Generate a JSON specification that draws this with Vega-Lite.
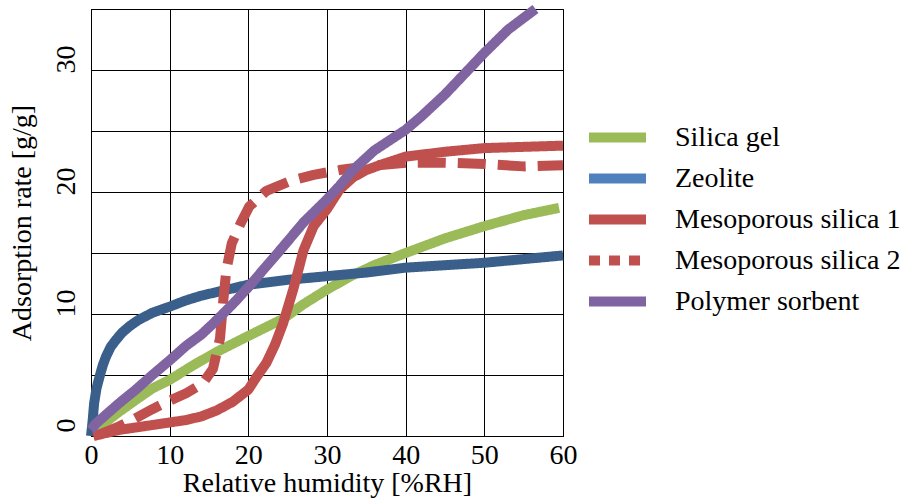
{
  "$schema": "https://vega.github.io/schema/vega-lite/v6.json",
  "autosize": "none",
  "width": 472,
  "height": 427,
  "padding": {"left": 91, "top": 9, "right": 341, "bottom": 66},
  "background": "white",
  "config": {"view": {"stroke": "#000", "strokeWidth": 1}, "font": "Liberation Serif", "legend": {"labelFont": "Liberation Serif"}, "axis": {"labelFont": "Liberation Serif", "titleFont": "Liberation Serif"}},
  "data": {"values": [
    {"s": "Silica gel", "x": 0.5, "y": 0.2}, {"s": "Silica gel", "x": 2, "y": 1.2}, {"s": "Silica gel", "x": 3.6, "y": 2.0}, {"s": "Silica gel", "x": 6, "y": 3.1}, {"s": "Silica gel", "x": 7.8, "y": 3.9}, {"s": "Silica gel", "x": 10, "y": 4.6}, {"s": "Silica gel", "x": 13, "y": 5.8}, {"s": "Silica gel", "x": 16, "y": 6.9}, {"s": "Silica gel", "x": 20, "y": 8.2}, {"s": "Silica gel", "x": 24.4, "y": 9.6}, {"s": "Silica gel", "x": 27, "y": 10.8}, {"s": "Silica gel", "x": 30, "y": 12.0}, {"s": "Silica gel", "x": 33, "y": 13.1}, {"s": "Silica gel", "x": 36, "y": 14.0}, {"s": "Silica gel", "x": 40, "y": 15.0}, {"s": "Silica gel", "x": 45, "y": 16.2}, {"s": "Silica gel", "x": 50, "y": 17.2}, {"s": "Silica gel", "x": 55, "y": 18.1}, {"s": "Silica gel", "x": 59.5, "y": 18.7},
    {"s": "Zeolite", "x": 0, "y": 0}, {"s": "Zeolite", "x": 0.2, "y": 1.2}, {"s": "Zeolite", "x": 0.4, "y": 2.7}, {"s": "Zeolite", "x": 0.7, "y": 3.9}, {"s": "Zeolite", "x": 1.1, "y": 4.9}, {"s": "Zeolite", "x": 1.5, "y": 5.8}, {"s": "Zeolite", "x": 1.9, "y": 6.5}, {"s": "Zeolite", "x": 2.5, "y": 7.3}, {"s": "Zeolite", "x": 3.2, "y": 7.9}, {"s": "Zeolite", "x": 4, "y": 8.5}, {"s": "Zeolite", "x": 4.9, "y": 9.0}, {"s": "Zeolite", "x": 6, "y": 9.5}, {"s": "Zeolite", "x": 7.8, "y": 10.1}, {"s": "Zeolite", "x": 10, "y": 10.6}, {"s": "Zeolite", "x": 12, "y": 11.1}, {"s": "Zeolite", "x": 14, "y": 11.5}, {"s": "Zeolite", "x": 16, "y": 11.8}, {"s": "Zeolite", "x": 20, "y": 12.4}, {"s": "Zeolite", "x": 25, "y": 12.8}, {"s": "Zeolite", "x": 30, "y": 13.1}, {"s": "Zeolite", "x": 35, "y": 13.4}, {"s": "Zeolite", "x": 40, "y": 13.8}, {"s": "Zeolite", "x": 45, "y": 14.0}, {"s": "Zeolite", "x": 50, "y": 14.2}, {"s": "Zeolite", "x": 55, "y": 14.5}, {"s": "Zeolite", "x": 60, "y": 14.8},
    {"s": "Mesoporous silica 1", "x": 0.3, "y": 0}, {"s": "Mesoporous silica 1", "x": 3.6, "y": 0.5}, {"s": "Mesoporous silica 1", "x": 7.8, "y": 0.9}, {"s": "Mesoporous silica 1", "x": 12, "y": 1.3}, {"s": "Mesoporous silica 1", "x": 14, "y": 1.6}, {"s": "Mesoporous silica 1", "x": 16, "y": 2.1}, {"s": "Mesoporous silica 1", "x": 18, "y": 2.8}, {"s": "Mesoporous silica 1", "x": 20, "y": 3.8}, {"s": "Mesoporous silica 1", "x": 21, "y": 4.8}, {"s": "Mesoporous silica 1", "x": 22.3, "y": 6.0}, {"s": "Mesoporous silica 1", "x": 23.4, "y": 7.5}, {"s": "Mesoporous silica 1", "x": 24.4, "y": 9.2}, {"s": "Mesoporous silica 1", "x": 25.7, "y": 12.0}, {"s": "Mesoporous silica 1", "x": 26.4, "y": 13.7}, {"s": "Mesoporous silica 1", "x": 27, "y": 15.2}, {"s": "Mesoporous silica 1", "x": 28.3, "y": 17.2}, {"s": "Mesoporous silica 1", "x": 30, "y": 18.6}, {"s": "Mesoporous silica 1", "x": 31.6, "y": 20.2}, {"s": "Mesoporous silica 1", "x": 33.3, "y": 21.2}, {"s": "Mesoporous silica 1", "x": 35, "y": 21.8}, {"s": "Mesoporous silica 1", "x": 36.7, "y": 22.2}, {"s": "Mesoporous silica 1", "x": 40, "y": 22.9}, {"s": "Mesoporous silica 1", "x": 45, "y": 23.3}, {"s": "Mesoporous silica 1", "x": 50, "y": 23.6}, {"s": "Mesoporous silica 1", "x": 55, "y": 23.7}, {"s": "Mesoporous silica 1", "x": 60, "y": 23.8},
    {"s": "Mesoporous silica 2", "x": 1, "y": 0.1}, {"s": "Mesoporous silica 2", "x": 3.6, "y": 0.8}, {"s": "Mesoporous silica 2", "x": 5.5, "y": 1.4}, {"s": "Mesoporous silica 2", "x": 7.8, "y": 2.2}, {"s": "Mesoporous silica 2", "x": 10, "y": 2.9}, {"s": "Mesoporous silica 2", "x": 12.1, "y": 3.5}, {"s": "Mesoporous silica 2", "x": 14.2, "y": 4.3}, {"s": "Mesoporous silica 2", "x": 15.5, "y": 5.5}, {"s": "Mesoporous silica 2", "x": 16.4, "y": 8.0}, {"s": "Mesoporous silica 2", "x": 16.8, "y": 11.0}, {"s": "Mesoporous silica 2", "x": 17.2, "y": 13.6}, {"s": "Mesoporous silica 2", "x": 17.9, "y": 15.8}, {"s": "Mesoporous silica 2", "x": 19, "y": 17.4}, {"s": "Mesoporous silica 2", "x": 20.1, "y": 18.8}, {"s": "Mesoporous silica 2", "x": 22.3, "y": 20.1}, {"s": "Mesoporous silica 2", "x": 25.3, "y": 20.9}, {"s": "Mesoporous silica 2", "x": 28.3, "y": 21.4}, {"s": "Mesoporous silica 2", "x": 31.6, "y": 21.8}, {"s": "Mesoporous silica 2", "x": 35, "y": 22.1}, {"s": "Mesoporous silica 2", "x": 40, "y": 22.4}, {"s": "Mesoporous silica 2", "x": 45, "y": 22.4}, {"s": "Mesoporous silica 2", "x": 50, "y": 22.3}, {"s": "Mesoporous silica 2", "x": 55, "y": 22.1}, {"s": "Mesoporous silica 2", "x": 60, "y": 22.2},
    {"s": "Polymer sorbent", "x": 0, "y": 0.5}, {"s": "Polymer sorbent", "x": 0.6, "y": 1.0}, {"s": "Polymer sorbent", "x": 2, "y": 1.8}, {"s": "Polymer sorbent", "x": 3.6, "y": 2.7}, {"s": "Polymer sorbent", "x": 5.7, "y": 3.8}, {"s": "Polymer sorbent", "x": 7.8, "y": 5.0}, {"s": "Polymer sorbent", "x": 10, "y": 6.2}, {"s": "Polymer sorbent", "x": 12.1, "y": 7.4}, {"s": "Polymer sorbent", "x": 14, "y": 8.3}, {"s": "Polymer sorbent", "x": 15.5, "y": 9.2}, {"s": "Polymer sorbent", "x": 18, "y": 10.8}, {"s": "Polymer sorbent", "x": 20, "y": 12.2}, {"s": "Polymer sorbent", "x": 22, "y": 13.7}, {"s": "Polymer sorbent", "x": 24.4, "y": 15.5}, {"s": "Polymer sorbent", "x": 27, "y": 17.5}, {"s": "Polymer sorbent", "x": 30, "y": 19.4}, {"s": "Polymer sorbent", "x": 31.6, "y": 20.5}, {"s": "Polymer sorbent", "x": 33.3, "y": 21.8}, {"s": "Polymer sorbent", "x": 36, "y": 23.4}, {"s": "Polymer sorbent", "x": 40, "y": 25.1}, {"s": "Polymer sorbent", "x": 42, "y": 26.2}, {"s": "Polymer sorbent", "x": 45, "y": 28.0}, {"s": "Polymer sorbent", "x": 50, "y": 31.4}, {"s": "Polymer sorbent", "x": 53, "y": 33.3}, {"s": "Polymer sorbent", "x": 56.5, "y": 35}
  ]},
  "encoding": {
    "x": {"field": "x", "type": "quantitative", "scale": {"domain": [0, 60], "nice": false, "zero": false},
      "axis": {"values": [0, 10, 20, 30, 40, 50, 60], "grid": true, "gridColor": "#000", "gridOpacity": 1, "gridWidth": 1, "ticks": false, "tickSize": 0, "domainColor": "#000", "labelFont": "Liberation Serif", "labelFontSize": 28, "labelColor": "#000", "labelPadding": 5, "labelFlush": false, "title": "Relative humidity [%RH]", "titleFont": "Liberation Serif", "titleFontSize": 28, "titleFontWeight": "normal", "titleColor": "#000", "titlePadding": 0}},
    "y": {"field": "y", "type": "quantitative", "scale": {"domain": [0, 35], "nice": false},
      "axis": {"values": [0, 5, 10, 15, 20, 25, 30, 35], "labelExpr": "datum.value % 10 === 0 ? datum.label : ''", "grid": true, "gridColor": "#000", "gridOpacity": 1, "gridWidth": 1, "ticks": false, "tickSize": 0, "domainColor": "#000", "labelFont": "Liberation Serif", "labelFontSize": 28, "labelColor": "#000", "labelAngle": -90, "labelAlign": "center", "labelBaseline": "bottom", "labelPadding": 11, "labelOffset": -11, "labelFlush": false, "title": "Adsorption rate [g/g]", "titleFont": "Liberation Serif", "titleFontSize": 28, "titleFontWeight": "normal", "titleColor": "#000", "titlePadding": 16}},
    "color": {"field": "s", "type": "nominal",
      "scale": {"domain": ["Silica gel", "Zeolite", "Mesoporous silica 1", "Mesoporous silica 2", "Polymer sorbent"], "range": ["#9BBB59", "#4F81BD", "#C0504D", "#C0504D", "#8064A2"]},
      "legend": {"orient": "none", "legendX": 493, "legendY": 108, "title": null, "symbolType": "stroke", "symbolSize": 3249, "symbolStrokeWidth": 10, "labelFont": "Liberation Serif", "labelFontSize": 28, "labelColor": "#000", "labelLimit": 0, "labelOffset": 24, "clipHeight": 41, "rowPadding": 0}},
    "strokeDash": {"field": "s", "type": "nominal",
      "scale": {"domain": ["Silica gel", "Zeolite", "Mesoporous silica 1", "Mesoporous silica 2", "Polymer sorbent"], "range": [[1, 0], [1, 0], [1, 0], [11, 9], [1, 0]]}}
  },
  "layer": [
    {"transform": [{"filter": "datum.s === 'Silica gel'"}], "mark": {"type": "line", "strokeWidth": 10, "strokeJoin": "round"}},
    {"transform": [{"filter": "datum.s === 'Zeolite'"}], "mark": {"type": "line", "strokeWidth": 10, "strokeJoin": "round"}, "encoding": {"color": {"value": "#3A5F8B"}}},
    {"transform": [{"filter": "datum.s === 'Mesoporous silica 1'"}], "mark": {"type": "line", "strokeWidth": 10, "strokeJoin": "round"}},
    {"transform": [{"filter": "datum.s === 'Mesoporous silica 2'"}], "mark": {"type": "line", "strokeWidth": 10, "strokeJoin": "round"}, "encoding": {"strokeDash": {"value": [28, 12]}}},
    {"transform": [{"filter": "datum.s === 'Polymer sorbent'"}], "mark": {"type": "line", "strokeWidth": 10, "strokeJoin": "round"}}
  ]
}
